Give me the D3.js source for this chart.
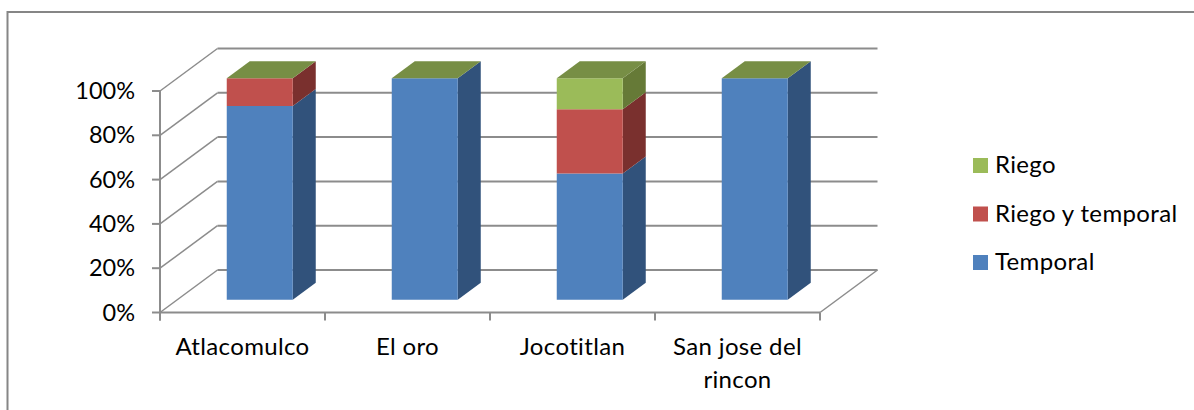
<!DOCTYPE html>
<html>
<head>
<meta charset="utf-8">
<script src="https://cdn.jsdelivr.net/npm/d3@7"></script>
<style>
  html, body { margin: 0; padding: 0; background: #fff; }
  svg { display: block; }
  text { font-family: Lato, sans-serif; fill: #000; font-size: 24px; letter-spacing: 0.35px; }
  text.tick { font-size: 23.5px; letter-spacing: 0; }
</style>
</head>
<body>
<div id="chart"></div>
<script>
const categories = ["Atlacomulco", "El oro", "Jocotitlan", "San jose del rincon"];
const seriesNames = ["Temporal", "Riego y temporal", "Riego"];
const temporal = [87.5, 100, 57, 100];
const riegoTemporal = [12.5, 0, 29, 0];
const riego = [0, 0, 14, 0];
const yTicks = [0, 20, 40, 60, 80, 100];

const width = 1194;
const height = 410;

const colors = ["#4f81bd", "#c0504d", "#9bbb59"];
const sideColors = ["#31527b", "#7a302e", "#667a37"];
const topColors = ["#41699a", "#9c4240", "#778e45"];
const gridColor = "#8c8c8c";

const svg = d3.select("#chart").append("svg")
    .attr("width", width)
    .attr("height", height);

// frame of the chart area, the right side is cut off in the original
svg.append("path")
    .attr("d", "M7.5,410V12H1194")
    .attr("fill", "none")
    .attr("stroke", "#868686")
    .attr("stroke-width", 2);

const x = d3.scaleBand().domain(categories).range([160, 820]);
const y = d3.scaleLinear().domain([0, 100]).range([312.5, 91]);

// depth of the 3d box, 0 is the front and 1 the back wall
const depthX = d3.scaleLinear().domain([0, 1]).range([0, 57.5]);
const depthY = d3.scaleLinear().domain([0, 1]).range([0, -42.5]);

const point = (px, value, d) => [px + depthX(d), y(value) + depthY(d)];
const line = d3.line();

const grid = svg.append("g")
    .attr("fill", "none")
    .attr("stroke", gridColor)
    .attr("stroke-width", 2);

// floor edge on the right side
grid.append("path")
    .attr("stroke-width", 1.5)
    .attr("d", line([point(820, 0, 0), point(820, 0, 1)]));

yTicks.forEach(t => {
    grid.append("path")
        .attr("stroke-width", 1.5)
        .attr("d", line([point(160, t, 0), point(160, t, 1)]));
    grid.append("path")
        .attr("d", line([point(160, t, 1), point(820, t, 1)]));
    grid.append("line")
        .attr("x1", 152).attr("x2", 160)
        .attr("y1", y(t)).attr("y2", y(t));
});

// axes on the front
grid.append("line")
    .attr("x1", 160).attr("x2", 160)
    .attr("y1", y(100)).attr("y2", y(0) + 8);
grid.append("line")
    .attr("x1", 160).attr("x2", 820)
    .attr("y1", y(0)).attr("y2", y(0));
x.domain().concat("end").forEach(c => {
    const px = c === "end" ? 820 : x(c);
    grid.append("line")
        .attr("x1", px).attr("x2", px)
        .attr("y1", y(0)).attr("y2", y(0) + 8);
});

svg.append("g").selectAll("text")
    .data(yTicks)
    .enter().append("text")
    .attr("class", "tick")
    .attr("x", 135)
    .attr("y", d => y(d) + 8)
    .attr("text-anchor", "end")
    .text(d => d + "%");

// bars, stacked from the bottom, sitting in the middle of the floor depth
const stacked = d3.stack().keys([0, 1, 2])(
    categories.map((c, i) => [temporal[i], riegoTemporal[i], riego[i]])
);
const barInset = 0.3;
const barWidth = x.bandwidth() * 0.4;
const d0 = 0.3;
const d1 = 0.7;

const bars = svg.append("g");
categories.forEach((c, i) => {
    const left = x(c) + x.bandwidth() * barInset;
    const right = left + barWidth;
    stacked.forEach((layer, s) => {
        const [v0, v1] = layer[i];
        if (v1 <= v0) return;
        bars.append("path")
            .attr("fill", sideColors[s])
            .attr("d", line([point(right, v0, d0), point(right, v1, d0), point(right, v1, d1), point(right, v0, d1)]) + "Z");
        bars.append("path")
            .attr("fill", colors[s])
            .attr("d", line([point(left, v0, d0), point(right, v0, d0), point(right, v1, d0), point(left, v1, d0)]) + "Z");
    });
    // the empty top series still caps every bar in green
    bars.append("path")
        .attr("fill", topColors[2])
        .attr("d", line([point(left, 100, d0), point(right, 100, d0), point(right, 100, d1), point(left, 100, d1)]) + "Z");
});

// category labels, the long one wraps on two lines
const catLines = categories.map(c => c === "San jose del rincon" ? ["San jose del", "rincon"] : [c]);
categories.forEach((c, i) => {
    const t = svg.append("text")
        .attr("text-anchor", "middle");
    catLines[i].forEach((s, j) => {
        t.append("tspan")
            .attr("x", x(c) + x.bandwidth() / 2)
            .attr("y", 354.5 + j * 33)
            .text(s);
    });
});

// legend, last series on top
const legendY = d3.scaleBand().domain(seriesNames.slice().reverse()).range([141.25, 286.75]);
const legend = svg.append("g").selectAll("g")
    .data(seriesNames.slice().reverse())
    .enter().append("g")
    .attr("transform", d => `translate(973,${legendY(d) + legendY.bandwidth() / 2})`);

legend.append("rect")
    .attr("y", -7.5)
    .attr("width", 15)
    .attr("height", 15)
    .attr("fill", d => colors[seriesNames.indexOf(d)]);

legend.append("text")
    .attr("x", 22)
    .attr("y", 7.5)
    .text(d => d);
</script>
</body>
</html>
